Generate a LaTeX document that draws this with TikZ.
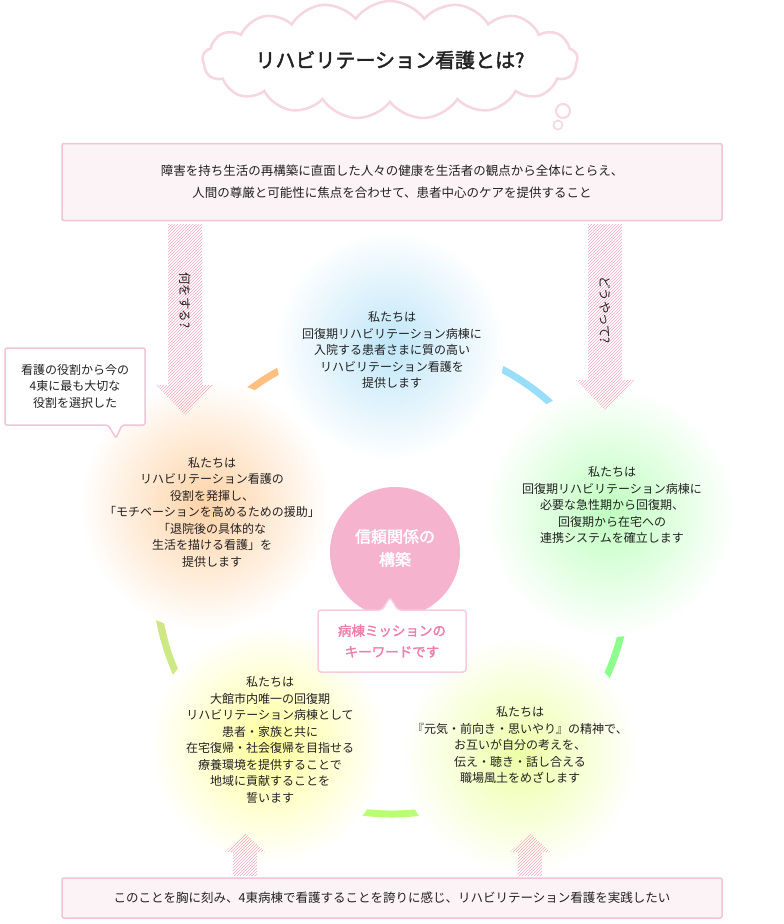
\documentclass[tikz,border=0pt]{standalone}
\usepackage{fontspec}
\setmainfont{Noto Sans CJK JP}
\newfontfamily\jpb{Noto Sans CJK JP}[FakeBold=2]
\usetikzlibrary{shapes.symbols,patterns}
\definecolor{pinkline}{HTML}{F2C4D6}
\definecolor{pinkfill}{HTML}{FCF3F6}
\definecolor{txt}{HTML}{222222}
\definecolor{stripe}{HTML}{F3A9C4}
\definecolor{keypink}{HTML}{F6B3CE}
\definecolor{keytext}{HTML}{EE7FAA}
\definecolor{sky}{HTML}{BFE6F8}
\begin{document}
\begin{tikzpicture}[x=1pt,y=-1pt,
  body/.style={font=\fontsize{12}{16.5}\selectfont,text=txt,align=center},
  pbox/.style={draw=pinkline,line width=1.5pt,fill=pinkfill,rounded corners=2pt},
  stripearrow/.style={pattern={north east lines},pattern color=stripe,draw=none}]
\useasboundingbox (0,0) rectangle (784,924);
\fill[white] (0,0) rectangle (784,924);
% ring (angles negated because y axis points down)
\draw[line width=7pt,color=orange!50] (392,578) ++(-195:236) arc[start angle=-195,end angle=-105,radius=236];
\draw[line width=7pt,color=cyan!40] (392,578) ++(-75:236) arc[start angle=-75,end angle=-10,radius=236];
\draw[line width=7pt,color=green!45] (392,578) ++(-10:236) arc[start angle=-10,end angle=40,radius=236];
\draw[line width=7pt,color=green!50!yellow!55] (392,578) ++(40:236) arc[start angle=40,end angle=140,radius=236];
\draw[line width=7pt,color=yellow!60!green!50] (392,578) ++(140:236) arc[start angle=140,end angle=195,radius=236];
% blobs
\shade[inner color=sky,outer color=white] (390,345) circle[radius=115];
\shade[inner color=orange!35,outer color=white] (205,505) circle[radius=125];
\shade[inner color=green!25,outer color=white] (610,512) circle[radius=125];
\shade[inner color=yellow!40,outer color=white] (268,745) circle[radius=118];
\shade[inner color=green!20!yellow!35,outer color=white] (520,755) circle[radius=118];
% cloud
\node[cloud,cloud puffs=17,cloud puff arc=110,aspect=3.4,draw=pinkline!70,line width=2.5pt,fill=white,minimum width=375pt,minimum height=118pt] (cloud) at (390,60) {};
\node[font=\jpb\fontsize{20}{22}\selectfont,text=txt] (title) at (390,60) {リハビリテーション看護とは?};
\draw[pinkline!70,line width=2pt,fill=white] (563,111) circle[radius=7];
\node[draw=pinkline!70,line width=1.5pt,circle,inner sep=0pt,minimum size=9pt] (bub) at (558,125) {};
% top box
\node[pbox,minimum width=660pt,minimum height=77pt,body,font=\fontsize{12.5}{22}\selectfont] (top) at (392,182) {障害を持ち生活の再構築に直面した人々の健康を生活者の観点から全体にとらえ、\\人間の尊厳と可能性に焦点を合わせて、患者中心のケアを提供すること};
% down arrows
\fill[stripearrow] (168,224) -- (202,224) -- (202,385) -- (214,385) -- (185,415) -- (156,385) -- (168,385) -- cycle;
\fill[stripearrow] (588,224) -- (622,224) -- (622,380) -- (634,380) -- (605,410) -- (576,380) -- (588,380) -- cycle;
\node[rotate=-90,body,font=\fontsize{12.5}{14}\selectfont] (q1) at (185,300) {何をする?};
\node[rotate=-90,body,font=\fontsize{12.5}{14}\selectfont] (q2) at (605,310) {どうやって?};
% up arrows
\fill[stripearrow] (233,876) -- (233,852) -- (225,852) -- (245,833) -- (265,852) -- (257,852) -- (257,876) -- cycle;
\fill[stripearrow] (518,876) -- (518,852) -- (510,852) -- (530,833) -- (550,852) -- (542,852) -- (542,876) -- cycle;
% callout left
\draw[pinkline,line width=1.5pt,fill=white,rounded corners=2pt] (5,348) -- (145,348) -- (145,425) -- (122,425) -- (116,438) -- (108,425) -- (5,425) -- cycle;
\node[body] (call) at (75,386) {看護の役割から今の\\4東に最も大切な\\役割を選択した};
% circle texts
\node[body] (t1) at (392,350) {私たちは\\回復期リハビリテーション病棟に\\入院する患者さまに質の高い\\リハビリテーション看護を\\提供します};
\node[body] (t2) at (212,512) {私たちは\\リハビリテーション看護の\\役割を発揮し、\\「モチベーションを高めるための援助」\\「退院後の具体的な\\生活を描ける看護」を\\提供します};
\node[body] (t3) at (612,505) {私たちは\\回復期リハビリテーション病棟に\\必要な急性期から回復期、\\回復期から在宅への\\連携システムを確立します};
\node[body] (t4) at (270,740) {私たちは\\大館市内唯一の回復期\\リハビリテーション病棟として\\患者・家族と共に\\在宅復帰・社会復帰を目指せる\\療養環境を提供することで\\地域に貢献することを\\誓います};
\node[body] (t5) at (520,745) {私たちは\\『元気・前向き・思いやり』の精神で、\\お互いが自分の考えを、\\伝え・聴き・話し合える\\職場風土をめざします};
% center
\fill[keypink] (395,552) circle[radius=65];
\node[font=\jpb\fontsize{16}{23}\selectfont,text=white,align=center] (key) at (395,548) {信頼関係の\\構築};
\draw[keypink!70,line width=1.5pt,fill=white,rounded corners=3pt] (318,610) -- (382,610) -- (390,597) -- (398,610) -- (466,610) -- (466,672) -- (318,672) -- cycle;
\node[font=\jpb\fontsize{13.5}{21}\selectfont,text=keytext,align=center] (mission) at (392,641) {病棟ミッションの\\キーワードです};
% bottom box
\node[pbox,minimum width=660pt,minimum height=40pt,body,font=\fontsize{12.5}{14}\selectfont] (bottom) at (392,898) {このことを胸に刻み、4東病棟で看護することを誇りに感じ、リハビリテーション看護を実践したい};
\end{tikzpicture}
\end{document}
